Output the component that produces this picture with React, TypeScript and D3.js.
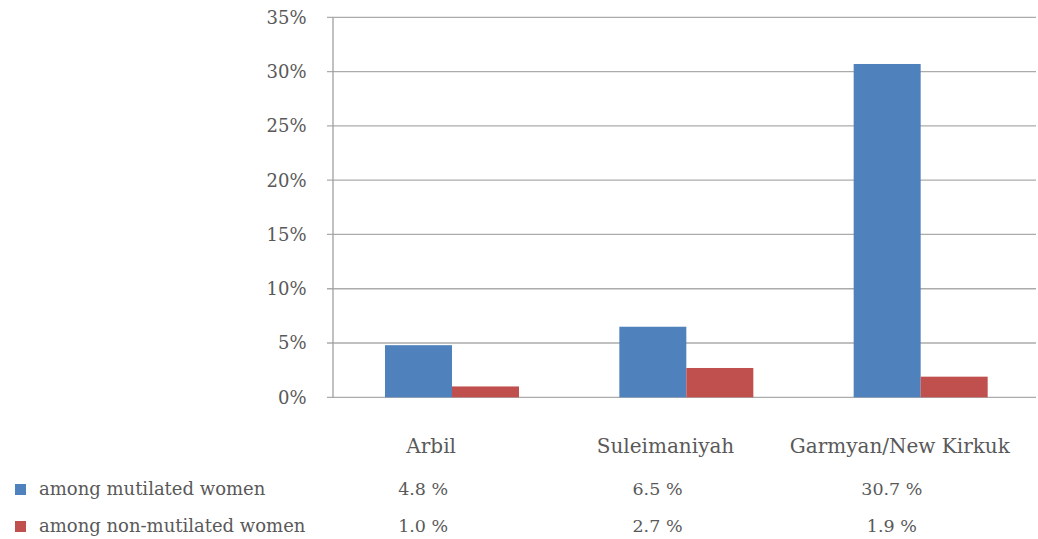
import React, { useEffect, useRef } from "react";
import * as d3 from "d3";

// data
const regions = ["Arbil", "Suleimaniyah", "Garmyan/New Kirkuk"];
const seriesNames = ["among mutilated women", "among non-mutilated women"];
const mutilated = [4.8, 6.5, 30.7];
const nonMutilated = [1.0, 2.7, 1.9];
const yTicks = [0, 5, 10, 15, 20, 25, 30, 35];
const colors = ["#4F81BD", "#C0504D"];

const W = 1038;
const H = 539;
const plot = { left: 333, right: 1036, top: 17.3, bottom: 397.3 };
const textColor = "#595959";
const font = "'DejaVu Serif', serif";

export default function App() {
  const ref = useRef<SVGSVGElement>(null);

  useEffect(() => {
    const svg = d3.select(ref.current);
    svg.selectAll("*").remove();

    const x = d3.scaleBand().domain(regions).range([plot.left, plot.right]).padding(0);
    const xSub = d3.scaleBand().domain(seriesNames).range([52, 186]).padding(0);
    const y = d3.scaleLinear().domain([0, 35]).range([plot.bottom, plot.top]);

    // gridlines + y tick labels
    const grid = svg.append("g");
    grid
      .selectAll("line")
      .data(yTicks)
      .enter()
      .append("line")
      .attr("x1", plot.left - 6)
      .attr("x2", plot.right)
      .attr("y1", (d) => y(d))
      .attr("y2", (d) => y(d))
      .attr("stroke", "#ABABAB")
      .attr("stroke-width", 1.3);

    grid
      .selectAll("text")
      .data(yTicks)
      .enter()
      .append("text")
      .attr("x", 306.5)
      .attr("y", (d) => y(d))
      .attr("dy", "0.36em")
      .attr("text-anchor", "end")
      .attr("font-family", font)
      .attr("font-size", 18)
      .attr("fill", textColor)
      .text((d) => `${d}%`);

    // y axis line
    svg
      .append("line")
      .attr("x1", plot.left)
      .attr("x2", plot.left)
      .attr("y1", plot.top)
      .attr("y2", plot.bottom)
      .attr("stroke", "#A0A0A0")
      .attr("stroke-width", 1.3);

    // bars
    const series = [mutilated, nonMutilated];
    const groups = svg
      .selectAll(".grp")
      .data(regions)
      .enter()
      .append("g")
      .attr("class", "grp")
      .attr("transform", (d) => `translate(${x(d)},0)`);

    groups
      .selectAll("rect")
      .data((d, i) => series.map((s, j) => ({ name: seriesNames[j], value: s[i], color: colors[j] })))
      .enter()
      .append("rect")
      .attr("x", (d) => xSub(d.name)!)
      .attr("y", (d) => y(d.value))
      .attr("width", xSub.bandwidth())
      .attr("height", (d) => y(0) - y(d.value))
      .attr("fill", (d) => d.color);

    // category labels
    svg
      .selectAll(".cat")
      .data(regions)
      .enter()
      .append("text")
      .attr("class", "cat")
      .attr("x", (d) => x(d)! + x.bandwidth() / 2 - 19)
      .attr("y", 453)
      .attr("text-anchor", "middle")
      .attr("font-family", font)
      .attr("font-size", 20)
      .attr("fill", textColor)
      .text((d) => d);

    // data table rows with legend keys
    const rowY = [495, 532];
    series.forEach((s, j) => {
      svg
        .append("rect")
        .attr("x", 15)
        .attr("y", rowY[j] - 11)
        .attr("width", 11)
        .attr("height", 11)
        .attr("fill", colors[j]);

      svg
        .append("text")
        .attr("x", 39)
        .attr("y", rowY[j])
        .attr("font-family", font)
        .attr("font-size", 18)
        .attr("fill", textColor)
        .text(seriesNames[j]);

      svg
        .selectAll(`.val${j}`)
        .data(s)
        .enter()
        .append("text")
        .attr("class", `val${j}`)
        .attr("x", (d, i) => x(regions[i])! + x.bandwidth() / 2 - 27)
        .attr("y", rowY[j])
        .attr("text-anchor", "middle")
        .attr("font-family", font)
        .attr("font-size", 17.5)
        .attr("fill", textColor)
        .text((d) => `${d.toFixed(1)} %`);
    });
  }, []);

  return (
    <svg
      ref={ref}
      width={W}
      height={H}
      style={{ position: "absolute", left: 0, top: 0, background: "#fff", display: "block" }}
    />
  );
}
